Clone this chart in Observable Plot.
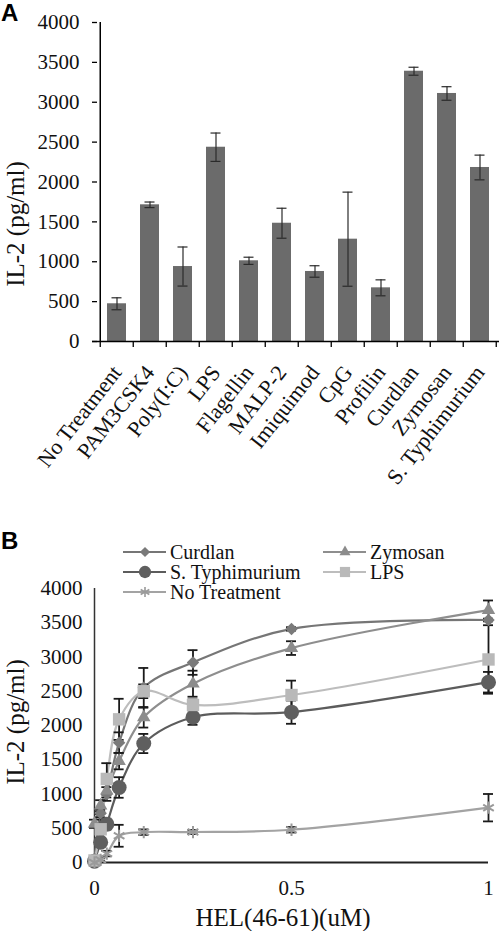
<!DOCTYPE html>
<html>
<head>
<meta charset="utf-8">
<script src="https://cdn.jsdelivr.net/npm/d3@7"></script>
<script src="https://cdn.jsdelivr.net/npm/@observablehq/plot@0.6"></script>
<style>
  body { margin: 0; background: #fff; }
  #root { position: relative; width: 500px; height: 931px; overflow: hidden; background: #fff; font-family: "Liberation Serif", "Times New Roman", serif; }
  .panel-label { position: absolute; font-family: "Liberation Sans", Arial, sans-serif; font-weight: bold; font-size: 24px; line-height: 24px; color: #000; }
  svg.overlay { position: absolute; left: 0; top: 0; overflow: visible; }
</style>
</head>
<body>
<div id="root"></div>
<script>
// ---------- Panel A data ----------
const categoriesA = ["No Treatment", "PAM3CSK4", "Poly(I:C)", "LPS", "Flagellin", "MALP-2", "Imiquimod", "CpG", "Profilin", "Curdlan", "Zymosan", "S. Typhimurium"];
const valuesA = [473, 1714, 940, 2436, 1012, 1483, 878, 1283, 673, 3389, 3110, 2182];
const errorsA = [75, 35, 245, 178, 45, 188, 72, 590, 100, 50, 85, 155];
const yTicksA = [0, 500, 1000, 1500, 2000, 2500, 3000, 3500, 4000];

// ---------- Panel B data ----------
const dosesB = [0, 0.015625, 0.03125, 0.0625, 0.125, 0.25, 0.5, 1];
const seriesNamesB = ["Curdlan", "Zymosan", "S. Typhimurium", "LPS", "No Treatment"];
const curdlanB = [50, 720, 1000, 1750, 2550, 2920, 3410, 3540];
const curdlanErrB = [10, 60, 100, 150, 290, 180, 25, 20];
const zymosanB = [565, 830, 1050, 1480, 2120, 2610, 3130, 3685];
const zymosanErrB = [60, 80, 100, 120, 150, 190, 100, 140];
const typhB = [20, 296, 560, 1095, 1737, 2120, 2195, 2632];
const typhErrB = [20, 60, 80, 150, 140, 110, 170, 150];
const lpsB = [30, 485, 1220, 2090, 2500, 2300, 2445, 2964];
const lpsErrB = [20, 220, 230, 300, 100, 80, 210, 500];
const noTreatB = [0, 40, 130, 390, 443, 445, 478, 800];
const noTreatErrB = [10, 20, 40, 160, 40, 30, 40, 200];
const xTicksB = [0, 0.5, 1];
const yTicksB = [0, 500, 1000, 1500, 2000, 2500, 3000, 3500, 4000];

const root = document.getElementById("root");
const serif = "Liberation Serif, Times New Roman, serif";

// ================= Panel A =================
const tidyA = categoriesA.map((c, i) => ({cat: c, value: valuesA[i], err: errorsA[i]}));
const WA = 500, HA = 495, mlA = 97, mrA = 1, mtA = 22, mbA = 154;
const padIn = 0.43;
const stepA = (WA - mlA - mrA) / categoriesA.length;

const plotA = Plot.plot({
  width: WA, height: HA,
  marginLeft: mlA, marginRight: mrA, marginTop: mtA, marginBottom: mbA,
  style: {fontFamily: serif, fontSize: "21px", color: "#111", background: "transparent", overflow: "visible"},
  x: {domain: categoriesA, paddingInner: padIn, paddingOuter: padIn / 2, axis: null},
  y: {domain: [0, 4000], axis: null},
  marks: [
    Plot.barY(tidyA, {x: "cat", y: "value", fill: "#6b6b6b"}),
    Plot.ruleX(tidyA, {x: "cat", y1: d => d.value - d.err, y2: d => d.value + d.err, stroke: "#2a2a2a", strokeWidth: 1.2}),
    Plot.tickY(tidyA, {x: "cat", y: d => d.value + d.err, stroke: "#2a2a2a", strokeWidth: 1.2, inset: 4.5}),
    Plot.tickY(tidyA, {x: "cat", y: d => d.value - d.err, stroke: "#2a2a2a", strokeWidth: 1.2, inset: 4.5}),
    Plot.axisY({ticks: yTicksA, tickSize: 5, tickPadding: 13, tickFormat: d => String(d), fontSize: 21, stroke: "#000", strokeWidth: 1.3, label: null}),
    Plot.ruleY([0], {stroke: "#000", strokeWidth: 1.5, insetLeft: -5}),
    Plot.ruleX([categoriesA[0]], {y1: 0, y2: 4000, dx: -stepA / 2, stroke: "#000", strokeWidth: 1.5}),
    Plot.ruleX(categoriesA, {x: d => d, y1: 0, y2: 0, dx: -stepA / 2, insetBottom: -6, stroke: "#000", strokeWidth: 1.3}),
    Plot.ruleX([categoriesA[categoriesA.length - 1]], {x: d => d, y1: 0, y2: 0, dx: stepA / 2 - 0.5, insetBottom: -6, stroke: "#000", strokeWidth: 1.3}),
    Plot.text(categoriesA, {x: d => d, y: 0, text: d => d, rotate: -52, textAnchor: "end", lineAnchor: "middle", dy: 27, dx: 0, fontSize: 22, fill: "#111"})
  ]
});
plotA.style.position = "absolute";
plotA.style.left = "0px";
plotA.style.top = "0px";
root.appendChild(plotA);

// ================= Panel B =================
const valuesByName = {"Curdlan": curdlanB, "Zymosan": zymosanB, "S. Typhimurium": typhB, "LPS": lpsB, "No Treatment": noTreatB};
const errsByName = {"Curdlan": curdlanErrB, "Zymosan": zymosanErrB, "S. Typhimurium": typhErrB, "LPS": lpsErrB, "No Treatment": noTreatErrB};
const tidyB = seriesNamesB.flatMap(name => dosesB.map((x, i) => ({series: name, x, y: valuesByName[name][i], err: errsByName[name][i]})));

const styleB = {
  "Curdlan": {line: "#767676", fill: "#7a7a7a", symbol: "diamond2", r: 5.6, stroke: "none"},
  "Zymosan": {line: "#8e8e8e", fill: "#8c8c8c", symbol: "triangle", r: 5.0, stroke: "none"},
  "S. Typhimurium": {line: "#5c5c5c", fill: "#5f5f5f", symbol: "circle", r: 7.5, stroke: "none"},
  "LPS": {line: "#bdbdbd", fill: "#b9b9b9", symbol: "square", r: 7.0, stroke: "none"},
  "No Treatment": {line: "#a3a3a3", fill: "none", symbol: "asterisk", r: 5.8, stroke: "#9a9a9a"}
};

const topB = 530, WB = 500, HB = 401, mlB = 94, mrB = 12, mtB = 58, mbB = 69;
const lineMarks = seriesNamesB.map(name =>
  Plot.line(tidyB.filter(d => d.series === name), {x: "x", y: "y", curve: "catmull-rom", stroke: styleB[name].line, strokeWidth: 2.2})
);
const errMarks = [
  Plot.ruleX(tidyB, {x: "x", y1: d => d.y - d.err, y2: d => d.y + d.err, stroke: "#1a1a1a", strokeWidth: 1.8}),
  Plot.ruleY(tidyB, {x1: "x", x2: "x", y: d => d.y + d.err, insetLeft: -5, insetRight: -5, stroke: "#1a1a1a", strokeWidth: 1.8}),
  Plot.ruleY(tidyB, {x1: "x", x2: "x", y: d => d.y - d.err, insetLeft: -5, insetRight: -5, stroke: "#1a1a1a", strokeWidth: 1.8})
];
const dotMarks = seriesNamesB.map(name => {
  const s = styleB[name];
  return Plot.dot(tidyB.filter(d => d.series === name), {
    x: "x", y: "y", symbol: () => s.symbol, r: s.r,
    fill: s.fill, stroke: s.stroke, strokeWidth: s.stroke === "none" ? 0 : 2
  });
});

const plotB = Plot.plot({
  width: WB, height: HB,
  marginLeft: mlB, marginRight: mrB, marginTop: mtB, marginBottom: mbB,
  style: {fontFamily: serif, fontSize: "21px", color: "#111", background: "transparent", overflow: "visible"},
  x: {domain: [0, 1], axis: null},
  y: {domain: [0, 4000], axis: null},
  symbol: {domain: ["diamond2", "triangle", "circle", "square", "asterisk"], range: ["diamond2", "triangle", "circle", "square", "asterisk"]},
  marks: [
    Plot.axisY({ticks: yTicksB, tickSize: 0, tickPadding: 12, tickFormat: d => String(d), fontSize: 21, label: null}),
    Plot.axisX({ticks: xTicksB, tickSize: 0, tickPadding: 18, tickFormat: d => String(d), fontSize: 21, label: null}),
    Plot.ruleX([0], {stroke: "#333", strokeWidth: 1.5}),
    Plot.ruleY([0], {stroke: "#222", strokeWidth: 1.8}),
    ...lineMarks,
    ...errMarks,
    ...dotMarks
  ]
});
plotB.style.position = "absolute";
plotB.style.left = "0px";
plotB.style.top = topB + "px";
root.appendChild(plotB);

// ---------- overlays: panel letters, axis titles, legend ----------
function addLabel(text, left, top) {
  const d = document.createElement("div");
  d.className = "panel-label";
  d.textContent = text;
  d.style.left = left + "px";
  d.style.top = top + "px";
  root.appendChild(d);
}
addLabel("A", 1, 1);
addLabel("B", 1, 529);

const ov = d3.select(root).append("svg")
  .attr("class", "overlay")
  .attr("width", 500).attr("height", 931)
  .style("font-family", serif);

[["IL-2 (pg/ml)", 15, 224], ["IL-2 (pg/ml)", 15, 722]].forEach(([t, x, y]) => {
  ov.append("text").attr("transform", `translate(${x},${y}) rotate(-90)`)
    .attr("text-anchor", "middle").attr("dominant-baseline", "central")
    .attr("font-size", 25).attr("fill", "#111").text(t);
});
ov.append("text").attr("x", 283).attr("y", 917)
  .attr("text-anchor", "middle").attr("dominant-baseline", "central")
  .attr("font-size", 25).attr("fill", "#111").text("HEL(46-61)(uM)");

const legendPos = {
  "Curdlan": [123, 552], "Zymosan": [323, 552],
  "S. Typhimurium": [123, 572], "LPS": [323, 572],
  "No Treatment": [123, 592]
};
const symMap = {diamond2: d3.symbolDiamond2, triangle: d3.symbolTriangle, circle: d3.symbolCircle, square: d3.symbolSquare, asterisk: d3.symbolAsterisk};
seriesNamesB.forEach(name => {
  const [lx, ly] = legendPos[name];
  const s = styleB[name];
  const g = ov.append("g");
  g.append("line").attr("x1", lx).attr("x2", lx + 43).attr("y1", ly).attr("y2", ly)
    .attr("stroke", s.line).attr("stroke-width", 2.2);
  const r = s.r * 0.82;
  g.append("path")
    .attr("d", d3.symbol(symMap[s.symbol], Math.PI * r * r)())
    .attr("transform", `translate(${lx + 22},${ly})`)
    .attr("fill", s.fill).attr("stroke", s.stroke).attr("stroke-width", s.stroke === "none" ? 0 : 1.6);
  g.append("text").attr("x", lx + 47).attr("y", ly)
    .attr("dominant-baseline", "central").attr("font-size", 20).attr("fill", "#111").text(name);
});
</script>
</body>
</html>
